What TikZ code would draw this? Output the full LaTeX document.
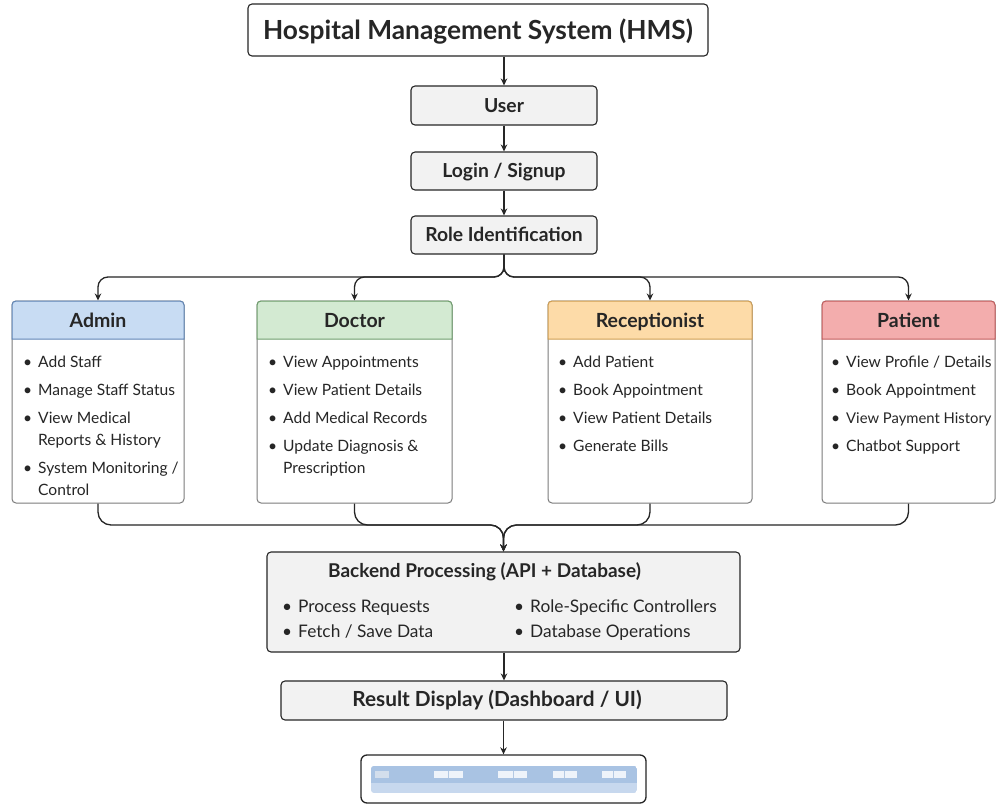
\documentclass[tikz,border=0pt]{standalone}
\usepackage{fontspec}
\setmainfont{Lato}
\usetikzlibrary{arrows.meta,calc}
\definecolor{ink}{HTML}{262626}
\definecolor{boxgray}{HTML}{F2F2F2}
\definecolor{bodygray}{HTML}{7C7C7C}
\definecolor{hBlue}{HTML}{C8DCF3}
\definecolor{bBlue}{HTML}{5F84B5}
\definecolor{hGreen}{HTML}{D3EAD2}
\definecolor{bGreen}{HTML}{6E9E6C}
\definecolor{hOrange}{HTML}{FDDBA8}
\definecolor{bOrange}{HTML}{CF9E52}
\definecolor{hRed}{HTML}{F3ADAD}
\definecolor{bRed}{HTML}{C25C5C}
\definecolor{barDark}{HTML}{A9C3E3}
\definecolor{barLight}{HTML}{C7D8EE}
\definecolor{btn}{HTML}{EEF3FA}
\definecolor{btnGray}{HTML}{D3DEEC}
\definecolor{btnLine}{HTML}{B4C9E3}
\newcommand\bl{\llap{\textbullet\hspace{6pt}}}
\newcommand\hdrpath[4]{% x1 x2 fill draw
  \filldraw[fill=#3, draw=#4, line width=1pt]
    (#1,339) -- (#1,305) arc[start angle=180,end angle=270,radius=4]
    -- ({#2-4},301) arc[start angle=270,end angle=360,radius=4]
    -- (#2,339) -- cycle;}
\tikzset{
  topbox/.style={draw=ink, line width=1.1pt, fill=boxgray, rounded corners=4pt,
    inner sep=0pt, text=ink, font=\bfseries\fontsize{19.3}{21}\selectfont,
    text height=17pt, text depth=4pt},
  bodybox/.style={draw=bodygray, line width=1pt, fill=white, rounded corners=4pt, inner sep=0pt},
  conn/.style={draw=ink, line width=1.3pt, -{Stealth[length=7pt,width=6.5pt]}},
  hdrtext/.style={font=\bfseries\fontsize{19.5}{21}\selectfont, text=ink, inner sep=0pt, anchor=base},
  itemlist/.style={font=\fontsize{15.6}{22}\selectfont, text=ink, inner sep=0pt, anchor=base west},
  bklist/.style={font=\fontsize{17.3}{25}\selectfont, text=ink, inner sep=0pt, anchor=base west},
}
\begin{document}
\begin{tikzpicture}[x=1pt,y=-1pt]
\useasboundingbox[fill=white] (0,0) rectangle (997,806);

% top chain
\node[topbox, minimum width=460pt, minimum height=52pt, fill=white,
  font=\bfseries\fontsize{26.3}{28}\selectfont, text height=25pt, text depth=6.4pt]
  (title) at (478,30) {Hospital Management System (HMS)};
\node[topbox, minimum width=186pt, minimum height=39pt] (user) at (504,105.5) {User};
\node[topbox, minimum width=186pt, minimum height=38pt] (login) at (504,171) {Login / Signup};
\node[topbox, minimum width=186pt, minimum height=38pt] (role) at (504,235) {Role Identification};

\draw[conn] (title.south -| user.north) -- (user.north);
\draw[conn] (user.south) -- (login.north);
\draw[conn] (login.south) -- (role.north);

% role boxes
\node[bodybox, minimum width=172pt, minimum height=202pt] (admin) at (98,402) {};
\node[bodybox, minimum width=195pt, minimum height=202pt] (doctor) at (354.5,402) {};
\node[bodybox, minimum width=204pt, minimum height=202pt] (recep) at (650,402) {};
\node[bodybox, minimum width=173pt, minimum height=202pt] (patient) at (908.5,402) {};

\hdrpath{12}{184}{hBlue}{bBlue}
\hdrpath{257}{452}{hGreen}{bGreen}
\hdrpath{548}{752}{hOrange}{bOrange}
\hdrpath{822}{995}{hRed}{bRed}

\node[hdrtext] (adminT) at (98,327) {Admin};
\node[hdrtext] (doctorT) at (354.5,327) {Doctor};
\node[hdrtext] (recepT) at (650,327) {Receptionist};
\node[hdrtext] (patientT) at (908.5,327) {Patient};

\node[itemlist] (adminL) at (38,367) {\begin{tabular}[t]{@{}l@{}}
\bl Add Staff\\[6pt]
\bl Manage Staff Status\\[6pt]
\bl View Medical\\
Reports \& History\\[6pt]
\bl System Monitoring /\\
Control\end{tabular}};
\node[itemlist] (doctorL) at (283,367) {\begin{tabular}[t]{@{}l@{}}
\bl View Appointments\\[6pt]
\bl View Patient Details\\[6pt]
\bl Add Medical Records\\[6pt]
\bl Update Diagnosis \&\\
Prescription\end{tabular}};
\node[itemlist] (recepL) at (573,367) {\begin{tabular}[t]{@{}l@{}}
\bl Add Patient\\[6pt]
\bl Book Appointment\\[6pt]
\bl View Patient Details\\[6pt]
\bl Generate Bills\end{tabular}};
\node[itemlist] (patientL) at (846,367) {\begin{tabular}[t]{@{}l@{}}
\bl View Profile / Details\\[6pt]
\bl Book Appointment\\[6pt]
\bl {\fontsize{14.8}{22}\selectfont View Payment History}\\[6pt]
\bl Chatbot Support\end{tabular}};

% branch connectors
\coordinate (bY) at (503,277);
\foreach \r in {admin,doctor,recep,patient}{
  \draw[conn, rounded corners=10pt] (role.south) |- (\r.north |- bY) -- (\r.north);
}

% backend
\node[topbox, minimum width=473pt, minimum height=100pt] (backend) at (503.5,602) {};
\node[hdrtext, font=\bfseries\fontsize{19}{21}\selectfont] (backT) at (484.5,577) {Backend Processing (API + Database)};
\node[bklist] (backL1) at (298,612) {\begin{tabular}[t]{@{}l@{}}
\bl Process Requests\\
\bl Fetch / Save Data\end{tabular}};
\node[bklist] (backL2) at (530,612) {\begin{tabular}[t]{@{}l@{}}
\bl Role-Specific Controllers\\
\bl Database Operations\end{tabular}};

% merge connectors
\coordinate (mY) at (503,525);
\foreach \r in {admin,doctor,recep,patient}{
  \draw[conn, rounded corners=13pt] (\r.south) |- (backend.north |- mY) -- (backend.north);
}

% result
\node[topbox, minimum width=446pt, minimum height=39pt] (result) at (504,700.5) {};
\node[hdrtext, font=\bfseries\fontsize{20.8}{22}\selectfont] (resultT) at (497,706) {Result Display (Dashboard / UI)};
\draw[conn] (backend.south -| result.north) -- (result.north);

% screen
\node[draw=ink, line width=1.3pt, fill=white, rounded corners=6pt,
  minimum width=285pt, minimum height=48pt, inner sep=0pt] (screen) at (503.5,779) {};
\draw[conn] (result.south -| screen.north) -- (screen.north);
\begin{scope}
  \clip[rounded corners=3pt] (371,766) rectangle (637,793);
  \fill[barLight] (371,766) rectangle (637,793);
  \fill[barDark] (371,766) rectangle (637,783);
\end{scope}
\fill[btnGray] (375,771) rectangle (389,778);
\foreach \a/\m/\b in {434/448/463, 498/513/527, 553/564/577, 602/613/626}{
  \fill[btn] (\a,771) rectangle (\b,778);
  \draw[btnLine, line width=0.6pt] (\m,771) -- (\m,778);
}
\end{tikzpicture}
\end{document}
